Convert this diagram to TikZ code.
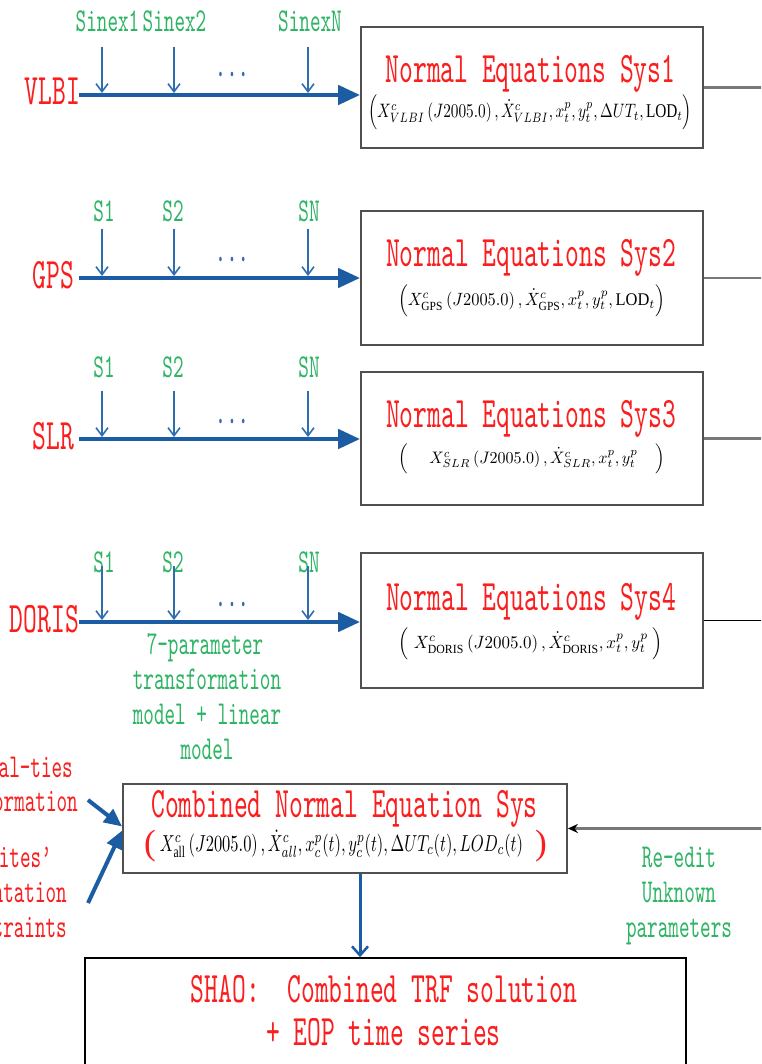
\documentclass[tikz,border=0pt]{standalone}
\usepackage{fontspec}
\setmainfont{Liberation Serif}
\newfontfamily\labelfont[FakeStretch=0.604]{lmmono10-regular.otf}
\usepackage{graphicx}
\usetikzlibrary{arrows.meta}

\definecolor{flowblue}{RGB}{28,92,162}
\definecolor{stnblue}{RGB}{46,110,175}
\definecolor{txtred}{RGB}{250,30,30}
\definecolor{txtgreen}{RGB}{45,180,100}
\definecolor{linkgray}{RGB}{120,120,120}
\definecolor{boxgray}{RGB}{80,80,80}

\tikzset{
  bigtext/.style={font={\labelfont\fontsize{43.5}{47}\selectfont}, text=txtred, inner sep=0pt, anchor=base},
  smalltext/.style={font={\labelfont\fontsize{33.4}{36}\selectfont}, inner sep=0pt, anchor=base},
  greentext/.style={smalltext, text=txtgreen},
  redsmall/.style={smalltext, text=txtred, anchor=base east},
  dotstext/.style={font={\labelfont\fontsize{36}{38}\selectfont}, text=stnblue, inner sep=0pt, anchor=base},
  formula/.style={inner sep=0pt, anchor=center},
  sysbox/.style={draw=boxgray, line width=1.8pt, inner sep=0pt},
  mainflow/.style={draw=flowblue, line width=4.5pt, -{Triangle[length=22pt,width=19pt]}},
  stationarrow/.style={draw=stnblue, line width=1.8pt, -{Straight Barb[length=8pt,width=12pt,line width=1.6pt]}},
  sideflow/.style={draw=flowblue, line width=4pt, -{Triangle[length=18pt,width=16pt]}},
  downflow/.style={draw=flowblue, line width=3pt, -{Straight Barb[length=9pt,width=16pt,line width=2.5pt]}},
  outlink/.style={draw=linkgray, line width=2.2pt},
  feedback/.style={draw=linkgray, line width=2.2pt, -{Stealth[length=10pt,width=9pt,color=black]}},
}

\begin{document}
\begin{tikzpicture}[x=1pt,y=-1pt]
\useasboundingbox (0,0) rectangle (761,1064);
\clip (0,0) rectangle (761,1064);
\fill[white] (0,0) rectangle (761,1064);

% normal-equation boxes
\node[sysbox, minimum width=342, minimum height=121] (box1) at (532,87.5) {};
\node[sysbox, minimum width=342, minimum height=134] (box2) at (532,278) {};
\node[sysbox, minimum width=342, minimum height=133] (box3) at (532,438.5) {};
\node[sysbox, minimum width=342, minimum height=135] (box4) at (532,620.5) {};
\node[sysbox, minimum width=444, minimum height=89] (comb) at (345,828.5) {};
\node[sysbox, draw=black, line width=1.6pt, minimum width=601, minimum height=142] (shao) at (385.5,1029) {};

% box titles
\node[bigtext] (t1) at (530.5,83) {Normal Equations Sys1};
\node[bigtext] (t2) at (531,267) {Normal Equations Sys2};
\node[bigtext] (t3) at (531,427) {Normal Equations Sys3};
\node[bigtext] (t4) at (531,610) {Normal Equations Sys4};
\node[bigtext] (tc) at (344.5,817) {Combined Normal Equation Sys};
\node[bigtext] (ts1) at (384,1002) {SHAO:~~Combined TRF solution};
\node[bigtext] (ts2) at (383.5,1045) {+ EOP time series};

% unknown parameters of each system
\node[formula] (f1) at (530,112.5) {\resizebox*{324pt}{35pt}{$\left(X^{c}_{VLBI}\left(J2005.0\right),\dot{X}^{c}_{VLBI},x^{p}_{t},y^{p}_{t},\Delta UT_{t},\mathrm{LOD}_{t}\right)$}};
\node[formula] (f2) at (531.5,301) {\resizebox*{267pt}{32pt}{$\left(X^{c}_{\mathrm{GPS}}\left(J2005.0\right),\dot{X}^{c}_{\mathrm{GPS}},x^{p}_{t},y^{p}_{t},\mathrm{LOD}_{t}\right)$}};
\node[formula] (f3) at (532,459) {\resizebox*{266pt}{30pt}{$\left(\hspace{1.3em}X^{c}_{SLR}\left(J2005.0\right),\dot{X}^{c}_{SLR},x^{p}_{t},y^{p}_{t}\hspace{1.1em}\right)$}};
\node[formula] (f4) at (531,644) {\resizebox*{264pt}{32pt}{$\left(\;X^{c}_{\mathrm{DORIS}}\left(J2005.0\right),\dot{X}^{c}_{\mathrm{DORIS}},x^{p}_{t},y^{p}_{t}\;\right)$}};
\node[formula] (fc) at (341.5,844) {\resizebox*{363pt}{28pt}{$X^{c}_{\mathrm{all}}\left(J2005.0\right),\dot{X}^{c}_{all},x^{p}_{c}(t),y^{p}_{c}(t),\Delta UT_{c}(t),LOD_{c}(t)$}};
\node[formula, text=txtred] (pl) at (150,846) {\resizebox*{!}{32pt}{(}};
\node[formula, text=txtred] (pr) at (541,846) {\resizebox*{!}{32pt}{)}};

% techniques
\node[bigtext, anchor=base east] (vlbi) at (80,105) {VLBI};
\node[bigtext, anchor=base east] (gps) at (74,288) {GPS};
\node[bigtext, anchor=base east] (slr) at (74,449) {SLR};
\node[bigtext, anchor=base east] (doris) at (79,632) {DORIS};

% solution inputs
\node[greentext] (n11) at (107.5,32) {Sinex1};
\node[greentext] (n12) at (174.5,32) {Sinex2};
\node[greentext] (n13) at (310,32) {SinexN};
\foreach \r/\yb in {2/222,3/377,4/572}{
  \node[greentext] (n\r1) at (104,\yb) {S1};
  \node[greentext] (n\r2) at (173,\yb) {S2};
  \node[greentext] (n\r3) at (309,\yb) {SN};
}
\node[dotstext] (d1) at (232,86) {···};
\node[dotstext] (d2) at (232,271) {···};
\node[dotstext] (d3) at (232,432) {···};
\node[dotstext] (d4) at (232,615) {···};

% station arrows onto the main lines
\foreach \r/\yl/\yt in {1/95/47,2/278/229,3/439/391,4/622/566}{
  \foreach \k/\xs in {a/102,b/174,c/308}{
    \coordinate (top\r\k) at (\xs,\yt);
    \coordinate (bot\r\k) at (\xs,\yl-2);
    \draw[stationarrow] (top\r\k) -- (bot\r\k);
  }
}

% main lines into the boxes
\coordinate (s1) at (79,95);
\coordinate (s2) at (79,278);
\coordinate (s3) at (79,439);
\coordinate (s4) at (79,622);
\draw[mainflow] (s1) -- (box1.west |- s1);
\draw[mainflow] (s2) -- (box2.west |- s2);
\draw[mainflow] (s3) -- (box3.west |- s3);
\draw[mainflow] (s4) -- (box4.west |- s4);

% links leaving to the right
\coordinate (edge) at (765,0);
\draw[outlink] (box1.east) -- (box1.east -| edge);
\draw[outlink] (box2.east) -- (box2.east -| edge);
\draw[outlink] (box3.east) -- (box3.east -| edge);
\draw[draw=black, line width=1.3pt] (box4.east) -- (box4.east -| edge);
\draw[feedback] (edge |- comb.east) -- (comb.east);

% transformation note
\node[greentext] (m1) at (205,654) {7-parameter};
\node[greentext] (m2) at (207,689) {transformation};
\node[greentext] (m3) at (207,724) {model + linear};
\node[greentext] (m4) at (207,759) {model};

% re-edit note
\node[greentext] (r1) at (679,867) {Re-edit};
\node[greentext] (r2) at (679,902) {Unknown};
\node[greentext] (r3) at (679,937) {parameters};

% constraints entering the combination
\node[redsmall] (c1) at (73,777) {al-ties};
\node[redsmall] (c2) at (78,811) {ormation};
\node[redsmall] (c3) at (52,867) {sites’};
\node[redsmall] (c4) at (67,902) {ntation};
\node[redsmall] (c5) at (67,937) {traints};
\coordinate (li1) at (88,800);
\coordinate (li2) at (88,903);
\draw[sideflow] (li1) -- ([yshift=2pt]comb.west);
\draw[sideflow] (li2) -- ([yshift=-2pt]comb.west);

% combined system to final solution
\draw[downflow] ([xshift=15pt]comb.south) -- ([xshift=15pt]comb.south |- shao.north);
\end{tikzpicture}
\end{document}
